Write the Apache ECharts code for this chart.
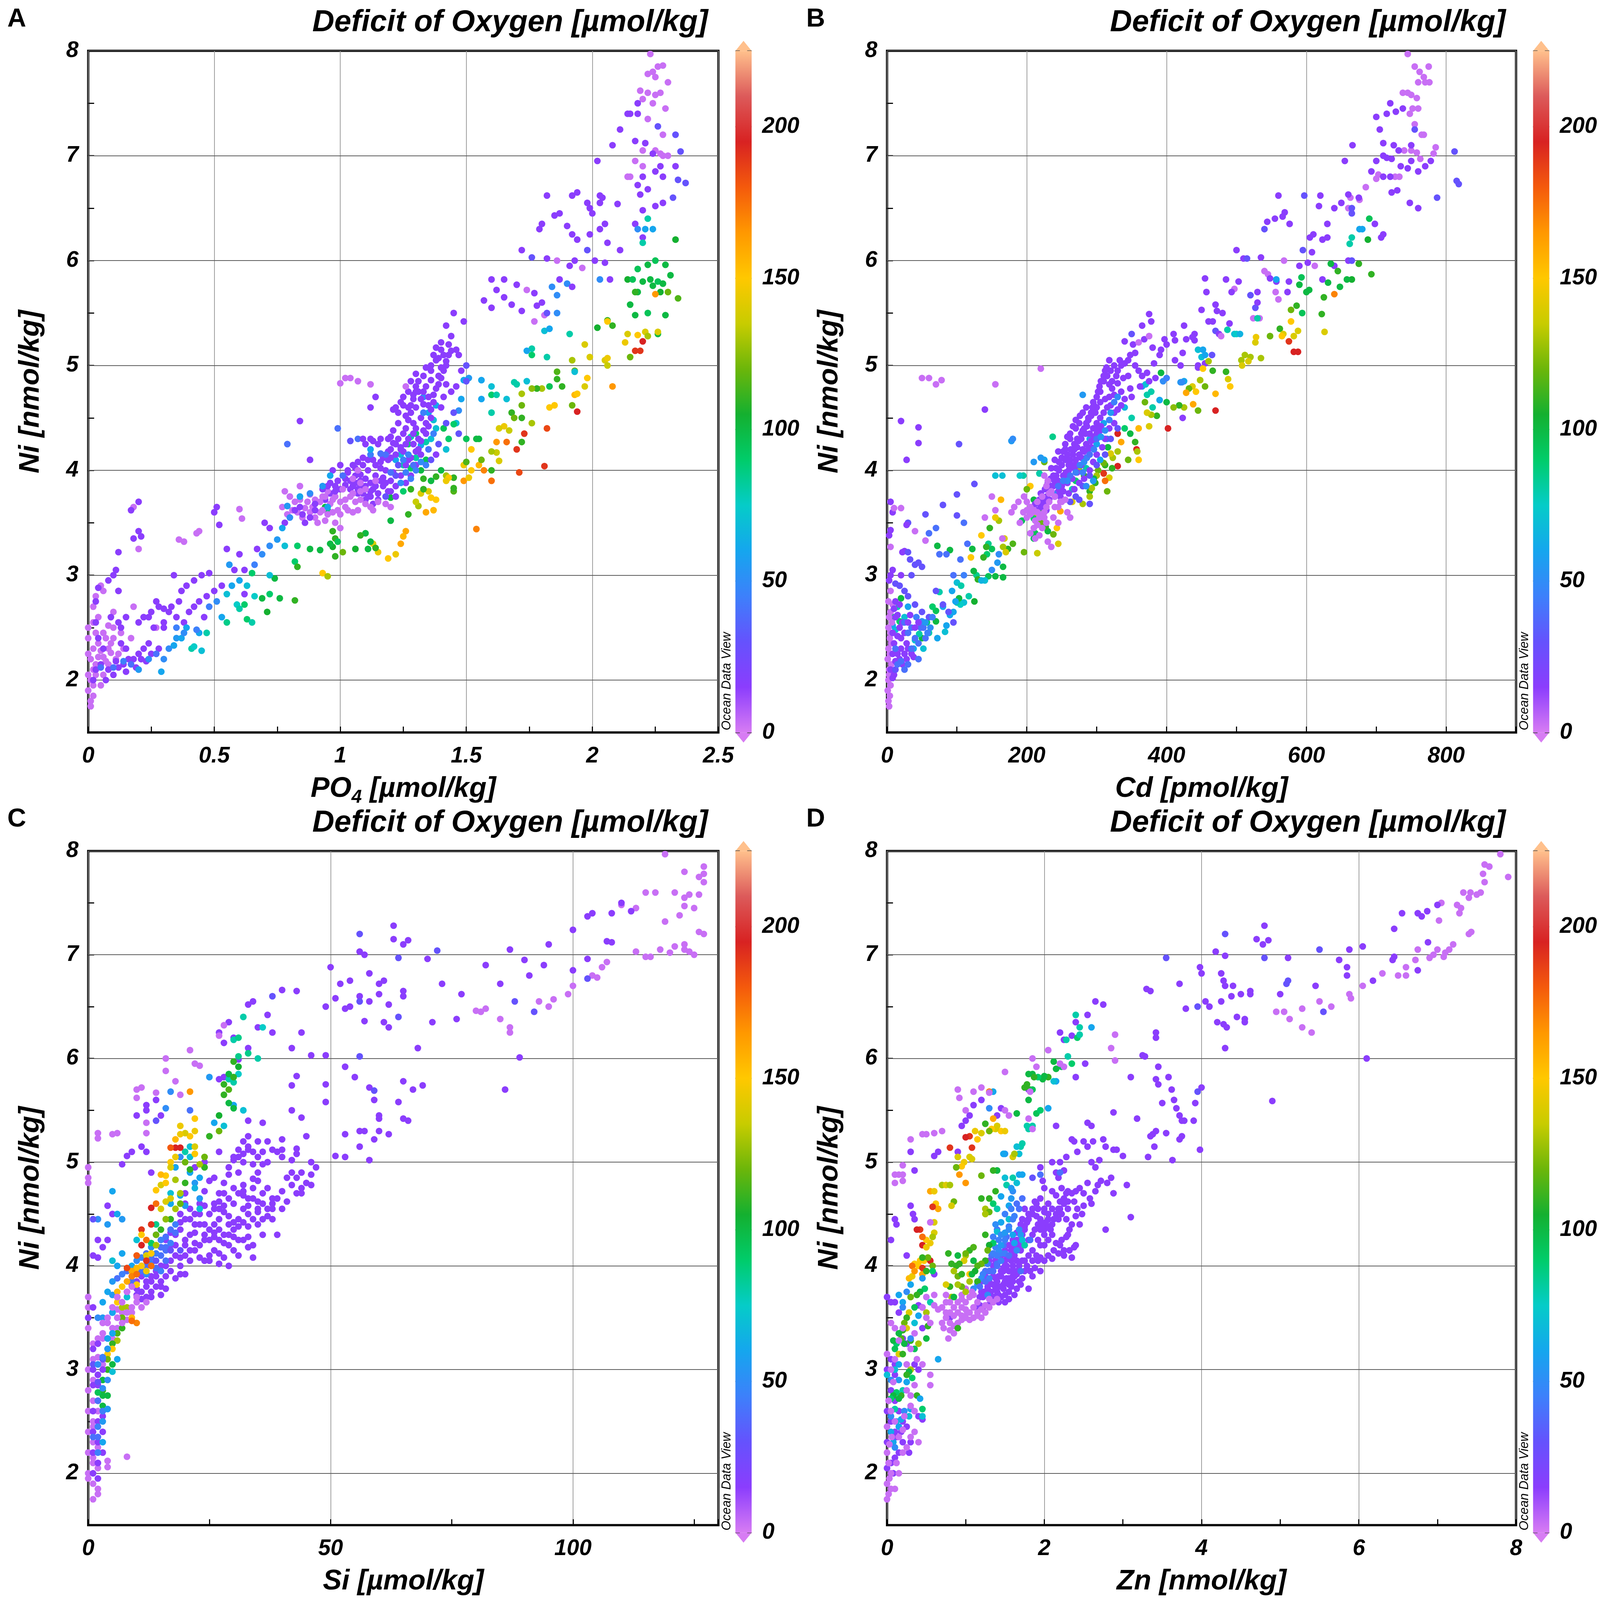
<!DOCTYPE html>
<html>
<head>
<meta charset="utf-8">
<script src="https://cdn.jsdelivr.net/npm/echarts@6/dist/echarts.min.js"></script>
<style>
html,body{margin:0;padding:0;background:#fff;overflow:hidden;}
#chart{width:100vw;height:100vh;}
</style>
</head>
<body>
<div id="chart"></div>
<script>
const poData = [
[2.23,7.97,3],[2.26,7.85,3],[2.28,7.86,3],[2.22,7.78,3],[2.25,7.75,3],[2.24,7.8,3],[2.3,7.7,3],[2.19,7.62,3],[2.22,7.6,3],[2.27,7.6,3],[2.25,7.58,3],[2.2,7.54,3],[2.24,7.5,3],[2.29,7.45,3],[2.22,7.35,3],[2.28,7.2,3],[2.25,7.05,3],[2.28,7.0,3],[2.2,7.05,3],[2.17,6.95,3],[2.14,6.8,3],[2.15,6.8,3],[2.2,6.9,3],[2.27,7.02,3],[2.3,7.0,3],
[2.18,7.5,15],[2.18,7.4,15],[2.15,7.4,15],[2.14,7.4,15],[2.11,7.25,15],[2.26,7.28,30],[2.33,7.2,30],[2.08,7.1,15],[2.21,7.12,15],[2.17,7.14,15],[2.24,7.02,15],[2.2,6.8,15],[2.25,6.85,15],[2.27,6.9,15],[2.28,6.8,15],[2.35,7.04,30],[2.37,6.74,30],[2.34,6.77,30],[2.33,6.9,15],[2.18,6.72,15],[2.19,6.63,15],[2.22,6.68,15],[2.2,6.48,15],[2.25,6.52,15],[2.28,6.55,15],[2.1,6.54,15],[2.32,6.6,30],[2.02,6.95,15],[2.03,6.55,15],[2.04,6.6,15],[2.03,6.62,15],[1.94,6.65,15],[1.92,6.62,15],[1.98,6.55,15],[1.99,6.5,15],[2.05,6.35,15],[2.0,6.45,15],[1.82,6.62,15],[1.85,6.43,15],[1.87,6.45,15],[1.79,6.3,15],[1.8,6.35,15],[1.9,6.33,15],[1.92,6.25,15],[1.94,6.2,15],[1.99,6.25,15],[2.03,6.3,15],[2.06,6.17,15],[2.11,6.1,15],[2.17,6.35,15],[2.21,6.3,60],[2.2,6.22,15],[2.22,6.4,80],[2.2,6.17,80],[2.18,6.3,50],[2.24,6.3,60],
[1.72,6.1,15],[1.76,6.03,30],[1.82,6.02,15],[1.86,6.0,3],[1.91,5.95,15],[1.96,5.93,3],[1.98,6.1,30],[2.01,6.0,15],[2.05,5.98,15],[1.93,6.0,15],[2.03,5.82,50],[2.07,5.82,15],[1.9,5.78,50],[1.92,5.75,15],[1.87,5.82,15],[1.77,5.69,15],[1.74,5.72,3],[1.7,5.77,15],[1.65,5.82,15],[1.6,5.82,15],[1.62,5.72,15],[1.65,5.65,15],[1.57,5.62,15],[1.6,5.55,15],[1.68,5.58,15],[1.72,5.52,15],[1.78,5.57,15],[1.8,5.6,15],[1.77,5.42,3],[1.81,5.48,3],[1.82,5.5,30],
[2.33,6.2,105],[2.25,6.0,95],[2.22,5.96,100],[2.29,5.96,100],[2.31,5.86,100],[2.23,5.82,100],[2.18,5.92,95],[2.14,5.82,105],[2.16,5.82,95],[2.2,5.8,100],[2.24,5.76,100],[2.26,5.8,95],[2.28,5.78,100],[2.27,5.7,105],[2.18,5.7,100],[2.17,5.7,110],[2.3,5.7,120],[2.34,5.64,115],[2.15,5.58,100],[2.22,5.5,95],[2.26,5.3,100],[2.29,5.48,100],[2.17,5.48,100],[2.08,5.38,110],[2.06,5.43,110],[2.02,5.36,105],[2.25,5.68,165],
[2.06,5.42,150],[2.14,5.3,140],[2.13,5.22,145],[2.18,5.29,150],[2.21,5.32,140],[2.26,5.32,140],[2.22,5.28,130],[2.15,5.08,120],[2.05,5.05,140],[2.06,5.0,135],[2.17,5.14,190],[2.19,5.14,190],[2.2,5.23,195],[2.06,5.07,145],[2.08,4.8,165],[1.99,5.08,140],[1.97,5.2,140],[1.92,5.05,130],[1.93,4.95,120],[1.98,4.88,150],[1.97,4.8,140],[1.93,4.72,155],[1.94,4.73,150],[1.92,4.62,120],[1.94,4.56,195],[1.85,4.62,150],[1.83,4.6,150],[1.82,4.4,185],[1.81,4.04,190],[1.73,4.35,190],[1.7,4.2,190],[1.71,3.98,185],[1.66,4.27,175],[1.62,4.27,165],[1.6,3.9,175],[1.57,4.0,170],[1.55,4.05,155],[1.52,4.0,150],[1.49,4.05,145],[1.49,3.9,165],[1.51,3.93,145],[1.54,3.44,170],
[1.86,4.87,110],[1.86,4.94,115],[1.88,4.8,110],[1.83,4.8,95],[1.8,4.78,130],[1.78,4.78,110],[1.76,4.78,125],[1.72,4.73,130],[1.74,4.85,70],[1.7,4.82,80],[1.72,4.62,120],[1.68,4.55,110],[1.69,4.5,120],[1.72,4.5,110],[1.76,4.45,130],[1.72,4.27,110],[1.67,4.38,135],[1.65,4.42,145],[1.63,4.4,140],[1.62,4.17,135],[1.6,4.18,130],[1.6,4.0,110],[1.63,4.09,140],[1.56,4.1,120],[1.55,4.3,100],[1.52,4.2,150],[1.5,4.3,95],[1.5,4.08,115],[1.54,4.3,100],[1.6,4.55,80],[1.6,4.72,90],[1.66,4.68,70],[1.69,4.84,80],[1.76,5.1,90],[1.76,5.16,80],[1.74,5.14,60],[1.82,5.08,80],[1.81,5.33,70],[1.83,5.35,60],[1.86,5.5,50],[1.86,5.67,50],[1.84,5.75,50],[1.91,5.3,80],[1.93,4.94,70],[1.6,4.8,70],[1.62,4.72,80],[1.56,4.86,60],[1.51,4.88,55],[1.49,4.86,60],[1.56,4.68,60],[1.48,4.68,60],[1.47,4.57,50],[1.46,4.45,70],[1.45,4.44,90],[1.41,4.4,95],[1.38,4.4,70],[1.43,4.3,90],[1.42,4.2,70],[1.4,4.0,100],[1.45,3.93,110],[1.45,3.8,115],[1.45,3.83,110],[1.42,3.95,130],[1.43,3.93,150],[1.42,3.9,145],[1.38,3.94,110],[1.36,3.9,100],[1.38,3.72,150],[1.36,3.74,150],[1.34,3.6,160],[1.37,3.62,155],[1.35,3.8,140],[1.32,3.78,140],[1.31,3.66,130],[1.3,3.7,135],[1.27,3.58,110],[1.26,3.42,160],[1.25,3.37,155],[1.24,3.3,160],[1.22,3.2,145],[1.19,3.16,150],[1.15,3.22,145],[1.13,3.3,140],[1.14,3.26,110],[1.11,3.25,100],[1.12,3.32,100],[1.06,3.25,105],[1.1,3.4,100],[1.08,3.38,110],[1.2,3.52,100],[1.2,3.74,100],[1.25,3.8,90],[1.28,3.82,110],[1.33,3.82,110],[1.33,3.92,110],[1.32,4.0,100],[1.34,4.1,95],[1.3,4.12,80],[1.28,4.02,90],[1.25,4.05,80],[1.24,4.15,70],[1.22,4.1,60],[1.27,4.25,90],[1.28,4.32,80],[1.3,4.35,90],[1.32,4.24,60],[1.34,4.27,80],[1.36,4.3,70],[1.33,4.7,50],[1.35,4.55,60],[1.37,4.48,70],[1.38,4.62,60],
[0.97,3.42,110],[0.98,3.35,110],[0.97,3.27,105],[0.98,3.18,110],[0.96,3.3,100],[0.94,3.65,100],[0.95,3.62,90],[0.92,3.24,100],[0.93,3.02,150],[0.95,2.99,130],[1.01,3.22,120],[0.99,3.32,95],
[1.45,5.5,15],[1.49,5.42,15],[1.42,5.38,15],[1.44,5.28,15],[1.43,5.2,15],[1.4,5.22,15],[1.38,5.17,15],[1.41,5.1,15],[1.44,5.14,15],[1.46,5.15,15],[1.37,5.1,15],[1.36,5.0,15],[1.38,5.05,15],[1.42,5.04,15],[1.4,4.98,15],[1.39,4.9,15],[1.36,4.86,15],[1.34,4.8,15],[1.33,4.75,15],[1.37,4.72,15],[1.31,4.75,15],[1.29,4.68,15],[1.33,4.63,15],[1.3,4.6,15],[1.28,4.55,15],[1.32,4.5,15],[1.29,4.45,15],[1.27,4.48,15],[1.26,4.4,15],[1.25,4.35,15],[1.23,4.3,15],[1.21,4.26,15],[1.2,4.2,15],[1.24,4.22,15],[1.22,4.15,15],[1.19,4.1,15],[1.18,4.0,15],[1.16,4.02,15],[1.21,3.98,15],[1.24,3.95,15],[1.2,3.9,15],[1.17,3.93,15],[1.14,3.95,15],[1.12,3.88,15],[1.1,3.92,15],[1.08,3.96,15],[1.06,4.02,15],[1.09,4.05,15],[1.11,4.0,15],[1.13,3.82,15],[1.15,3.78,15],[1.12,3.75,15],[1.1,3.72,15],[1.07,3.78,15],[1.05,3.85,15],[1.04,3.9,15],[1.08,3.85,15],[1.17,3.85,15],[1.19,3.8,15],[1.22,3.85,15],[1.26,3.88,15],[1.28,3.95,15],[1.3,4.05,15],[1.27,4.1,15],[1.25,4.18,15],[1.31,4.2,15],[1.29,4.25,15],[1.31,4.3,15],[1.34,4.35,15],[1.35,4.42,15],[1.3,4.4,15],[1.36,4.5,15],[1.35,4.62,15],[1.32,4.68,15],[1.27,4.75,15],[1.28,4.62,15],[1.4,4.6,15],[1.42,4.82,15],[1.44,4.75,15],[1.46,4.8,15],[1.41,4.7,15],[1.48,4.95,15],[1.5,5.0,30],[1.47,5.1,15],[1.5,4.85,30],[1.45,4.55,30],[1.47,4.35,30],[1.42,4.45,30],[1.39,4.25,30],[1.38,4.15,15],[1.36,4.1,30],[1.32,4.15,15],[1.23,4.05,30],[1.22,3.95,30],[1.18,3.75,30],[1.16,4.3,15],[1.15,4.25,15],[1.13,4.28,15],[1.1,4.25,15],[1.07,4.3,40],[1.21,4.58,15],[1.14,4.7,15],[1.2,4.32,15],[1.35,4.7,15],[1.26,4.8,3],[1.3,4.75,15],
[1.22,4.6,15],[1.24,4.65,15],[1.25,4.7,15],[1.23,4.55,15],[1.26,4.52,15],[1.27,4.6,15],[1.29,4.72,15],[1.3,4.8,15],[1.31,4.85,15],[1.33,4.9,15],[1.29,4.35,15],[1.27,4.3,15],[1.26,4.25,15],[1.24,4.2,15],[1.22,4.25,15],[1.2,4.12,15],[1.19,4.18,15],[1.17,4.12,15],[1.16,4.08,15],[1.14,4.05,15],[1.13,4.1,15],[1.11,4.1,15],[1.09,4.12,15],[1.07,4.08,15],[1.05,4.05,15],[1.03,3.98,15],[1.06,3.95,15],[1.08,3.9,15],[1.1,3.85,15],[1.12,3.8,15],[1.14,3.85,15],[1.16,3.9,15],[1.18,3.88,15],[1.2,3.8,15],[1.22,3.75,15],[1.15,3.72,15],[1.13,3.68,15],[1.11,3.75,15],[1.09,3.78,15],[1.07,3.82,15],[1.04,3.82,15],[1.02,3.86,15],[1.0,3.82,15],[0.98,3.85,15],[0.96,3.78,15],[0.94,3.72,15],[1.06,3.88,15],[1.26,4.05,15],[1.28,4.12,15],[1.3,4.18,15],[1.32,4.28,15],[1.33,4.38,15],[1.34,4.45,15],[1.36,4.58,15],[1.37,4.65,15],[1.38,4.78,15],[1.39,4.82,15],[1.4,4.88,15],[1.41,4.95,15],[1.42,5.0,15],[1.39,5.07,15],[1.43,5.1,15],[1.4,5.15,15],[1.34,4.98,15],[1.36,4.95,15],[1.3,4.92,15],[1.28,4.85,15],[1.25,4.62,15],[1.23,4.45,15],[1.21,4.38,15],[1.19,4.3,15],
[1.25,4.1,45],[1.27,4.15,45],[1.29,4.05,40],[1.32,4.08,50],[1.3,4.0,45],[1.28,3.92,45],[1.34,4.05,45],[1.26,3.98,45],[1.24,3.88,50],[1.2,3.98,40],[1.35,4.2,40],[1.37,4.35,45],[1.33,4.55,45],[1.18,4.15,40],[1.12,4.15,45],
[0.93,3.75,3],[0.95,3.8,3],[0.97,3.72,3],[0.99,3.62,3],[0.89,3.65,3],[0.85,3.55,3],[0.83,3.6,3],[0.81,3.62,3],[0.79,3.58,3],[0.77,3.65,3],[1.0,3.58,3],[1.02,3.72,3],[1.05,3.78,3],[1.08,3.72,3],[0.92,3.6,3],
[1.02,4.88,3],[1.04,4.88,3],[1.0,4.83,3],[1.07,4.85,3],[1.12,4.82,3],[1.08,3.8,3],[1.06,3.7,3],[1.04,3.75,3],[1.02,3.65,3],[1.0,3.7,3],[0.98,3.75,3],[1.01,3.82,3],[1.03,3.62,3],[1.05,3.6,3],[0.97,3.6,3],[0.95,3.58,3],[0.93,3.62,3],[0.9,3.55,3],[0.88,3.6,3],[0.87,3.7,3],[0.9,3.72,3],[0.92,3.7,3],[0.94,3.75,3],[0.96,3.68,3],[0.98,3.5,3],[1.0,3.45,3],[0.94,3.52,3],[0.91,3.5,3],[0.86,3.64,3],[0.88,3.77,3],[0.84,3.72,3],[0.82,3.7,3],[0.8,3.75,3],[0.78,3.8,3],[0.84,3.85,3],[1.1,3.68,3],[1.12,3.65,3],[1.13,3.62,3],[1.15,3.7,3],[1.07,3.62,3],[1.05,3.92,3],[1.08,3.88,3],[1.1,3.82,3],[1.14,3.9,3],[1.18,3.68,3],[1.2,3.65,3],[1.07,4.0,3],[0.6,3.63,3],[0.61,3.54,3],
[1.0,4.05,15],[1.02,3.92,15],[0.99,3.9,15],[0.96,3.88,15],[0.93,3.82,15],[0.9,3.68,15],[0.88,3.55,15],[0.86,3.5,15],[0.9,3.62,15],[1.01,3.95,40],[0.95,3.85,15],[0.97,4.0,15],[0.98,3.8,15],[0.84,3.65,15],[1.03,4.0,15],[1.12,4.3,15],[1.09,4.3,15],[1.12,4.6,15],[0.99,4.4,40],[1.04,4.28,30],[0.88,4.1,15],[0.84,4.47,15],[0.79,4.25,40],[0.96,3.95,60],[0.95,3.65,60],[1.16,4.16,40],[1.12,4.2,60],
[0.01,1.75,3],[0.01,1.8,3],[0.02,1.85,3],[0.0,1.9,3],[0.02,1.95,3],[0.01,2.0,3],[0.0,2.05,3],[0.02,2.1,3],[0.03,2.15,3],[0.01,2.2,3],[0.0,2.25,3],[0.02,2.3,3],[0.04,2.35,3],[0.0,2.4,3],[0.03,2.45,3],[0.0,2.5,3],[0.02,2.55,3],[0.05,2.28,3],[0.06,2.22,3],[0.08,2.3,3],[0.09,2.35,3],[0.1,2.4,3],[0.11,2.2,3],[0.12,2.25,3],[0.1,2.5,3],[0.07,2.4,3],[0.04,2.6,3],[0.02,2.7,3],[0.03,2.8,3],[0.06,2.85,3],[0.05,2.9,3],[0.1,2.65,3],[0.12,2.85,3],[0.14,2.3,3],[0.18,2.7,3],[0.2,3.25,3],[0.18,3.65,3],[0.27,2.5,3],[0.36,3.34,3],[0.38,3.32,3],[0.43,3.4,3],[0.44,3.42,3],[0.05,1.95,3],[0.08,2.15,3],[0.13,2.45,3],[0.17,2.4,3],[0.03,2.05,3],[0.06,2.05,3],[0.07,2.18,3],[0.09,2.26,3],[0.04,2.22,3],[0.06,2.45,3],[0.08,2.52,3],
[0.02,2.0,15],[0.03,2.1,15],[0.05,2.15,15],[0.07,2.0,15],[0.08,2.1,15],[0.1,2.05,15],[0.12,2.12,15],[0.14,2.15,15],[0.16,2.2,15],[0.18,2.2,15],[0.2,2.25,15],[0.22,2.3,15],[0.24,2.35,15],[0.21,2.2,15],[0.25,2.25,15],[0.28,2.3,15],[0.15,2.3,15],[0.13,2.35,15],[0.06,2.3,15],[0.04,2.4,15],[0.03,2.55,15],[0.03,2.75,15],[0.04,2.88,15],[0.08,2.95,15],[0.1,3.0,15],[0.11,3.05,15],[0.12,2.85,15],[0.09,2.6,15],[0.12,2.55,15],[0.13,2.5,15],[0.18,3.35,15],[0.2,3.42,15],[0.2,3.7,15],[0.17,3.62,15],[0.21,3.37,15],[0.12,3.22,15],[0.27,2.75,15],[0.28,2.7,15],[0.3,2.68,15],[0.32,2.65,15],[0.33,2.7,15],[0.3,2.55,15],[0.34,3.0,15],[0.37,2.85,15],[0.39,2.9,15],[0.42,2.95,15],[0.45,3.0,15],[0.48,3.02,15],[0.5,3.6,15],[0.51,3.65,15],[0.52,3.48,15],[0.55,3.25,15],[0.58,3.05,15],[0.62,3.05,15],[0.6,3.2,15],[0.67,3.25,15],[0.7,3.5,15],[0.72,3.45,15],[0.62,2.82,15],[0.25,2.65,15],[0.22,2.6,15],[0.2,2.55,15],[0.24,2.6,15],[0.15,2.6,15],[0.26,2.5,15],[0.3,2.5,15],[0.35,2.6,15],[0.38,2.55,15],[0.4,2.65,15],[0.42,2.7,15],[0.44,2.75,15],[0.47,2.8,15],[0.5,2.85,15],[0.53,2.9,15],[0.36,2.75,15],[0.46,2.6,15],[0.82,3.62,15],[0.85,3.58,15],[0.78,3.5,15],[0.11,2.18,15],[0.15,2.08,15],[0.19,2.12,15],[0.23,2.18,15],
[0.05,2.12,40],[0.1,2.12,40],[0.14,2.18,45],[0.17,2.15,40],[0.2,2.1,55],[0.24,2.2,50],[0.27,2.25,40],[0.29,2.08,60],[0.3,2.2,50],[0.32,2.3,50],[0.35,2.4,55],[0.37,2.4,60],[0.39,2.5,60],[0.41,2.3,80],[0.42,2.32,75],[0.44,2.45,60],[0.47,2.45,80],[0.43,2.48,45],[0.38,2.45,50],[0.34,2.33,60],[0.48,2.7,45],[0.51,2.75,50],[0.53,2.6,60],[0.55,2.82,70],[0.57,2.9,60],[0.59,2.72,75],[0.6,2.68,80],[0.62,2.72,90],[0.55,2.55,85],[0.56,3.1,55],[0.6,2.95,60],[0.63,2.9,70],[0.66,2.8,75],[0.65,3.02,90],[0.69,2.78,100],[0.71,2.65,105],[0.72,2.82,90],[0.74,2.97,100],[0.76,2.78,100],[0.78,3.28,70],[0.82,3.13,90],[0.83,3.08,110],[0.83,3.28,90],[0.88,3.25,100],[0.82,2.76,110],[0.69,3.2,50],[0.72,3.28,50],[0.75,3.34,55],[0.77,3.45,60],[0.8,3.55,50],[0.79,3.66,55],[0.84,3.75,60],[0.88,3.78,50],[0.93,3.85,55],[0.63,2.58,90],[0.65,2.55,80],[0.66,3.1,45],[0.45,2.28,70],[0.35,2.5,45],[0.72,3.0,70]
];

const cdData = [
[745,7.97,3],[755,7.85,3],[762,7.8,3],[768,7.75,3],[775,7.85,3],[776,7.7,3],[770,7.7,3],[760,7.7,3],[738,7.6,3],[745,7.6,3],[750,7.58,3],[758,7.55,3],[752,7.45,3],[748,7.4,3],[755,7.3,3],[765,7.2,3],[768,7.2,3],[750,7.05,3],[758,7.03,3],[763,6.97,3],[785,7.08,3],[782,7.02,3],[727,6.8,3],[733,6.8,3],[703,6.82,3],[700,6.78,3],[685,6.7,3],[660,6.5,3],[676,6.58,3],[663,6.6,3],[740,7.05,3],[760,7.45,3],
[720,7.5,15],[728,7.42,15],[715,7.4,15],[700,7.37,15],[738,7.45,15],[705,7.25,15],[710,7.12,15],[725,7.1,15],[732,7.05,15],[710,7.0,15],[715,6.98,15],[700,6.95,15],[722,6.97,15],[735,6.9,15],[745,6.88,15],[750,6.95,15],[760,6.85,15],[770,6.9,15],[778,6.95,15],[755,7.25,30],[750,7.1,15],[812,7.04,30],[815,6.76,30],[818,6.73,30],[787,6.6,30],[760,6.5,15],[748,6.55,15],[730,6.67,15],[722,6.65,15],[720,6.8,15],[710,6.8,15],[693,6.85,15],[698,6.35,15],[710,6.25,15],[707,6.22,15],[666,7.1,15],[655,6.95,15],[660,6.63,15],[675,6.6,15],[665,6.5,30],[665,6.45,30],[650,6.55,15],[640,6.5,15],[630,6.35,15],[618,6.52,15],[620,6.62,15],[597,6.62,30],[560,6.62,15],[555,6.4,15],[540,6.3,30],[544,6.37,15],[576,6.35,15],[569,6.46,15],[566,6.42,15],[623,6.2,15],[630,6.22,15],[610,6.25,15],[605,6.22,15],[595,6.1,30],[590,5.95,15],[602,5.98,15],[608,6.08,15],[612,5.95,3],[640,5.95,15],[623,5.82,15],[660,6.0,15],[665,6.0,30],[500,6.1,15],[510,6.02,15],[515,6.02,30],[535,6.03,15],[545,5.87,3],[568,6.0,3],[557,5.8,15],[548,5.83,15],[530,5.7,15],[520,5.67,30],[503,5.8,15],[497,5.73,3],[493,5.7,15],[485,5.82,15],[480,5.5,15],[470,5.58,15],[472,5.52,15],[455,5.83,15],[457,5.7,15],[450,5.53,15],[460,5.42,15],[466,5.42,15],[470,5.33,30],[475,5.3,15],[490,5.4,15],[440,5.3,15],[437,5.27,15],[428,5.25,15],[425,5.38,15],[410,5.3,15],[412,5.24,15],[412,5.05,15],[420,5.0,15],[445,5.0,15],[445,4.98,15],[455,5.02,15],[465,5.1,30],[478,5.28,3],[527,5.55,30],[530,5.6,15],[533,5.45,3],[524,5.45,3],[556,5.7,3],[560,5.63,3],[575,5.8,15],[573,5.7,15],[540,5.9,3],
[690,6.4,95],[688,6.2,105],[676,6.3,60],[680,6.3,60],[665,6.22,80],[662,6.16,80],[675,5.97,110],[665,5.82,105],[658,5.82,100],[645,5.9,110],[635,5.97,100],[648,5.75,100],[631,5.79,100],[625,5.65,110],[622,5.49,110],[604,5.72,100],[600,5.7,100],[593,5.84,95],[590,5.77,100],[586,5.57,110],[594,5.5,95],[578,5.53,120],[557,5.82,60],[562,5.35,110],[548,5.28,120],[530,5.45,80],[507,5.05,130],[512,5.1,130],[520,5.08,130],[517,5.04,140],[508,5.0,140],[535,5.07,130],[527,5.22,140],[528,5.27,145],[567,5.3,140],[565,5.28,150],[578,5.42,150],[582,5.28,140],[588,5.33,140],[582,5.13,195],[588,5.13,195],[575,5.23,190],[626,5.32,140],[640,5.68,170],[693,5.87,110],[497,5.3,70],[487,5.34,80],[485,4.94,110],[488,4.87,140],[491,4.8,150],[470,4.57,195],[470,4.73,155],[460,5.04,130],[452,4.97,150],[448,4.86,130],[445,5.15,70],[452,5.15,60],[450,5.08,70],[466,4.95,110],[455,4.8,120],[442,4.75,150],[437,4.8,140],[432,4.78,120],[428,4.74,160],[425,4.85,60],[420,4.84,55],[438,4.63,160],[445,4.57,120],[425,4.6,130],[418,4.62,110],[410,4.6,125],[400,4.65,100],[402,4.4,195],[392,4.93,100],[390,4.67,60],[386,4.52,110],[380,4.6,80],[378,4.53,130],[372,4.55,140],[369,4.65,120],[372,4.72,80],[378,4.75,80],[365,4.8,50],[370,4.82,70],[375,4.42,140],[360,4.4,155],[357,4.2,195],[358,4.18,130],[355,4.27,110],[360,4.1,150],[345,4.1,120],[348,4.35,100],[340,4.4,90],[335,4.27,160],[330,4.35,195],[330,4.04,195],[330,4.18,130],[323,4.12,130],[320,4.16,140],[322,4.02,110],[316,4.22,100],[312,4.05,110],[310,4.07,120],[318,3.93,140],[312,3.9,175],[310,3.97,190],[302,4.0,120],[300,3.95,130],[298,3.88,110],[296,3.92,100],[290,3.8,110],[293,3.83,130],[290,3.75,130],[315,3.8,120],[275,4.0,130],[282,3.95,110],[285,4.02,80],[270,3.9,90],[265,3.82,80],[280,3.68,130],[248,3.61,160],[243,3.45,150],[238,3.39,120],[245,3.3,140],[230,3.42,100],[227,3.46,110],[220,3.5,120],[215,3.57,140],[218,3.6,110],[210,3.54,90],[212,3.4,95],[210,3.35,95],[215,3.21,135],[196,3.22,120],[193,3.52,95],[210,3.72,100],[205,3.85,150],[200,3.82,120],[195,3.95,80],[218,3.97,80],[225,4.08,120],[237,4.32,85],[240,3.9,60],[265,3.7,140],[180,3.3,115],[173,3.25,110],[166,3.08,100],[166,3.27,130],[150,3.25,95],[160,3.52,130],[155,3.55,145],[147,3.45,110],[145,3.3,85],[142,3.27,110],[143,3.2,90],[138,3.17,110],[135,3.38,150],[128,3.0,85],[130,2.96,110],[124,3.04,100],[125,2.75,105],[120,3.17,150],[117,2.8,80],[110,2.74,70],[105,2.72,75],[100,2.74,80],[103,2.78,100],[100,2.93,70],[106,2.9,80],[122,3.25,100],[155,2.99,100],[145,2.99,95],[166,2.98,100],[170,3.22,140],[168,3.35,140],[163,3.72,155],[72,3.28,100],[90,3.24,100],[75,2.84,80],[70,2.56,100],[70,2.66,95],[65,2.7,90],[57,2.55,90],[50,2.4,100],[60,2.45,80],[52,2.3,70],[46,2.44,80],[40,2.38,70],[38,2.3,60],[15,2.7,80],[18,2.56,90],[20,2.78,100],[10,2.6,90],[12,2.48,70],[8,2.52,60],[25,2.6,70],[30,2.7,60],[85,2.52,60],[83,2.46,70],[80,2.7,60],[95,2.65,60],[93,2.85,60],[98,2.75,60],[90,2.62,60],[140,2.95,70],[135,2.95,65],[150,3.05,50],[158,3.12,55],[160,3.2,50],[190,3.95,75],[155,3.95,70],[165,3.95,70],[178,4.28,55],[210,4.08,55],[225,4.1,60],[220,4.12,55],[280,4.72,55],[310,4.45,60],[315,4.3,55],[300,4.25,60],[290,4.3,60],[305,4.1,60],[340,4.6,65],[350,4.5,80],[455,5.1,60],[422,4.84,50],[395,4.85,50],[400,4.88,45],[500,5.3,75],[505,5.3,65],
[375,5.49,15],[378,5.42,15],[365,5.38,15],[368,5.25,15],[352,5.2,15],[340,5.23,15],[355,5.12,15],[348,5.1,15],[345,5.05,15],[333,5.05,15],[325,5.0,15],[320,4.95,15],[315,4.9,15],[322,4.85,15],[330,4.83,15],[338,4.88,15],[345,4.9,15],[355,5.0,15],[360,4.95,15],[365,4.9,15],[372,4.93,15],[382,5.02,15],[390,5.1,15],[392,5.15,15],[380,5.17,15],[397,5.25,15],[400,5.2,15],[384,4.88,15],[375,4.85,15],[362,4.8,15],[348,4.78,15],[335,4.75,15],[325,4.72,15],[318,4.7,15],[312,4.68,15],[305,4.65,15],[300,4.6,15],[298,4.55,15],[292,4.52,15],[288,4.48,15],[285,4.45,15],[282,4.4,15],[278,4.35,15],[272,4.3,15],[268,4.25,15],[263,4.2,15],[258,4.15,15],[255,4.1,15],[250,4.05,15],[246,4.0,15],[242,3.95,15],[240,3.9,15],[236,3.85,15],[232,3.8,15],[228,3.75,15],[225,3.7,15],[220,3.65,15],[215,3.62,15],[212,3.68,15],[220,3.78,15],[230,3.88,15],[238,3.95,15],[245,3.9,15],[250,3.85,15],[255,3.95,15],[260,4.0,15],[265,4.05,15],[270,4.1,15],[275,4.15,15],[280,4.2,15],[285,4.25,15],[290,4.35,15],[295,4.4,15],[300,4.45,15],[305,4.5,15],[310,4.55,15],[315,4.6,15],[320,4.62,15],[325,4.55,15],[330,4.58,15],[335,4.62,15],[340,4.68,15],[350,4.7,15],[305,4.38,15],[298,4.3,15],[292,4.22,15],[285,4.12,15],[278,4.05,15],[272,3.98,15],[265,3.92,15],[258,3.88,15],[252,3.8,15],[248,3.75,15],[260,3.78,15],[268,3.82,15],[275,3.88,15],[282,3.92,15],[290,4.0,15],[295,4.08,15],[300,4.15,15],[308,4.22,15],[312,4.3,15],[318,4.4,15],[325,4.45,15],[262,4.3,15],[270,4.4,15],[275,4.45,15],[255,4.25,15],[245,4.18,15],[240,4.1,15],[235,4.02,15],[285,4.6,15],[295,4.65,15],[305,4.75,15],[310,4.85,15],[318,5.05,15],[350,5.3,30],[330,4.4,30],[320,4.3,30],[312,4.15,30],[300,4.05,30],[290,3.95,30],[280,3.85,30],[270,3.75,30],[262,3.7,30],[290,3.68,30],[275,3.72,30],[440,5.24,15],[423,5.12,15],[423,4.5,15],
[240,3.75,15],[245,3.8,15],[250,3.88,15],[252,3.95,15],[256,3.98,15],[260,4.05,15],[262,4.1,15],[266,4.15,15],[268,4.2,15],[272,4.22,15],[274,4.28,15],[278,4.3,15],[280,4.38,15],[284,4.35,15],[286,4.42,15],[288,4.5,15],[292,4.55,15],[294,4.6,15],[296,4.62,15],[300,4.7,15],[302,4.75,15],[304,4.8,15],[306,4.85,15],[310,4.9,15],[312,4.95,15],[314,4.98,15],[318,4.82,15],[322,4.78,15],[328,4.9,15],[330,4.95,15],[335,5.0,15],[340,5.02,15],[250,4.12,15],[255,4.2,15],[258,4.32,15],[262,4.35,15],[266,4.42,15],[270,4.48,15],[276,4.52,15],[280,4.55,15],[268,4.02,15],[272,4.05,15],[278,4.12,15],[282,4.18,15],[288,4.2,15],[292,4.28,15],[296,4.32,15],[300,4.35,15],[302,4.4,15],[306,4.42,15],[238,3.85,15],[232,3.72,15],[228,3.62,15],[222,3.68,15],[218,3.72,15],[226,3.82,15],[234,3.92,15],[242,4.02,15],[246,4.08,15],[252,4.18,15],
[262,3.95,40],[270,3.98,45],[276,4.05,45],[282,4.08,50],[286,4.12,45],[290,4.15,40],[280,3.98,45],[296,4.2,45],[300,4.3,40],[306,4.32,55],[312,4.38,50],[318,4.48,45],[258,3.9,50],[252,3.9,45],[245,3.85,40],[238,3.78,45],[285,3.85,50],[295,3.9,55],[325,4.65,45],[320,4.55,55],[330,4.7,50],
[200,3.62,3],[205,3.58,3],[210,3.62,3],[215,3.7,3],[222,3.75,3],[228,3.85,3],[232,3.78,3],[210,3.45,3],[205,3.4,3],[212,3.35,3],[218,3.38,3],[225,3.55,3],[240,3.65,3],[248,3.7,3],[195,3.6,3],[190,3.5,3],[215,3.6,3],
[235,3.8,3],[232,3.7,3],[228,3.65,3],[225,3.6,3],[220,3.58,3],[218,3.55,3],[212,3.52,3],[208,3.6,3],[205,3.65,3],[200,3.7,3],[196,3.75,3],[200,3.55,3],[215,3.48,3],[222,3.45,3],[228,3.5,3],[238,3.55,3],[245,3.65,3],[250,3.7,3],[255,3.72,3],[240,3.75,3],[230,3.9,3],[225,3.95,3],[258,3.6,3],[262,3.55,3],[245,3.5,3],[230,3.32,3],[235,3.27,3],[182,3.65,3],[188,3.7,3],[178,3.6,3],[165,3.35,3],[155,3.62,3],[150,3.75,3],[140,3.55,3],[60,4.88,3],[50,4.88,3],[70,4.82,3],[78,4.86,3],[155,4.82,3],[220,4.97,3],[375,5.28,3],[360,5.22,3],
[140,4.58,15],[20,4.47,15],[45,4.41,15],[45,4.26,15],[103,4.25,30],[28,4.1,15],[180,4.3,50],[125,3.87,30],[100,3.77,30],[80,3.67,30],[55,3.58,30],[30,3.5,30],[5,3.7,15],[8,3.6,15],[5,3.43,15],[3,3.38,15],[10,3.64,3],[20,3.64,3],[5,3.27,3],[22,3.22,15],[25,3.23,15],[33,3.15,30],[40,3.1,30],[45,3.12,30],[50,3.08,30],[35,3.0,30],[20,3.0,15],[8,3.05,15],[5,3.0,15],[3,2.95,15],[12,2.92,30],[18,2.9,30],[25,2.85,30],[30,2.8,30],[40,2.72,30],[50,2.65,30],[60,2.6,30],[70,2.85,30],[80,2.72,30],[88,2.65,30],[95,2.55,30],[60,3.4,40],[70,3.45,40],[100,3.57,30],[110,3.5,40],[40,3.42,3],[55,3.33,3],[75,3.2,40],[85,3.2,40],[95,3.0,40],[105,3.15,40],[110,3.0,45],[115,3.3,40],
[5,2.85,3],[2,2.75,3],[3,2.6,3],[2,2.5,3],[4,2.4,3],[2,2.3,3],[1,2.2,3],[3,2.1,3],[2,2.0,3],[1,1.9,3],[2,1.8,3],[3,1.75,3],[4,1.85,3],[5,1.95,3],[3,2.05,3],[6,2.15,3],[4,2.25,3],[6,2.35,3],[5,2.45,3],[7,2.55,3],[5,2.65,3],[8,2.72,3],
[10,2.68,15],[12,2.6,15],[8,2.45,15],[10,2.35,15],[8,2.25,15],[12,2.18,15],[15,2.25,15],[18,2.2,15],[20,2.3,15],[22,2.15,15],[25,2.25,15],[28,2.2,15],[30,2.3,15],[35,2.25,15],[38,2.22,15],[28,2.35,15],[20,2.4,15],[15,2.42,15],[18,2.5,15],[22,2.55,15],[15,2.62,15],[25,2.45,15],[10,2.05,15],[5,2.1,15],[8,2.02,15],
[12,2.1,30],[15,2.15,40],[20,2.18,40],[25,2.1,40],[30,2.15,40],[35,2.3,40],[40,2.4,40],[45,2.35,40],[48,2.5,40],[52,2.5,40],[55,2.4,40],[58,2.45,45],[62,2.5,50],[45,2.2,40],[12,2.3,40],[25,2.55,40],[30,2.45,40],[35,2.5,40],[42,2.6,45],[50,2.56,50],[55,2.55,55],[65,2.6,45],[72,2.4,60],[30,2.55,15],[40,2.5,15],[45,2.55,15],[33,2.62,15],[12,2.75,15],[18,2.72,15],[30,3.22,30],[28,3.48,15]
];

const siData = [
[119,7.97,3],[127,7.85,3],[127,7.78,3],[127,7.7,3],[126,7.75,3],[123,7.8,3],[121,7.6,3],[117,7.6,3],[115,7.6,3],[123,7.55,3],[124,7.58,3],[126,7.58,3],[123,7.47,3],[125,7.45,3],[122,7.38,3],[119,7.32,3],[126,7.22,3],[127,7.2,3],[123,7.1,3],[121,7.08,3],[118,7.05,3],[123,7.05,3],[124,7.03,3],[125,7.0,3],[120,7.02,3],[116,6.98,3],[113,7.03,3],[115,6.98,3],[107,6.93,3],[106,6.88,3],[105,6.78,3],[104,6.8,3],[99,6.62,3],[96,6.57,3],[93,6.55,3],[95,6.5,3],[100,6.7,3],[87,6.3,3],[87,6.25,3],[85,6.38,3],[82,6.48,3],[81,6.45,3],[80,6.46,3],[110,7.48,3],[113,7.45,3],
[110,7.5,15],[112,7.42,15],[104,7.4,15],[103,7.37,15],[108,7.4,15],[100,7.24,15],[107,7.13,15],[108,7.12,15],[103,6.96,15],[103,6.77,30],[100,6.85,15],[95,7.1,15],[94,6.9,15],[90,6.95,15],[91,6.8,15],[92,6.45,30],[88,6.55,30],[87,7.05,15],[85,6.72,15],[82,6.9,15],[89,6.01,15],[86,5.7,15],[77,6.62,15],[76,6.38,15],[72,7.04,30],[70,6.96,15],[71,6.35,15],[73,6.72,15],[68,6.1,15],[69,5.74,15],[67,5.7,15],[66,7.14,15],[65,7.1,15],[63,7.28,15],[64,6.97,30],[63,7.15,15],[65,6.65,15],[65,6.6,15],[64,6.4,30],[62,6.52,15],[61,6.75,15],[60,6.72,15],[60,6.62,15],[62,6.3,15],[61,6.35,15],[58,6.55,15],[58,6.82,15],[57,7.0,15],[56,7.03,15],[56,7.2,30],[56,6.6,15],[56,6.55,30],[54,6.5,15],[54,6.75,15],[53,6.48,15],[52,6.72,15],[50,6.88,15],[49,6.5,15],[51,6.58,15],[57,6.36,15],[56,6.02,30],[53,5.92,15],[55,5.82,15],[58,5.72,15],[59,5.69,30],[59,5.6,15],[60,5.45,15],[60,5.42,15],[64,5.58,15],[65,5.78,15],[65,5.42,15],[66,5.4,15],[62,5.27,15],[60,5.3,15],[59,5.22,15],[58,5.02,15],[57,5.3,15],[56,5.3,15],[56,5.15,15],[53,5.27,15],[53,5.05,15],[51,5.06,15],[49,5.58,15],[49,6.03,15],[49,5.75,15],[46,6.03,15],[43,5.83,15],[42,5.74,15],[42,5.5,15],[44,5.43,15],[45,5.25,15],[46,5.0,15],[43,5.08,15],[42,5.02,15],[40,5.12,15],[40,5.22,15],[43,5.13,15],[44,6.25,15],[42,6.1,15],[43,6.65,15],[40,6.66,15],[38,6.6,30],[37,6.42,15],[34,6.55,15],[33,6.52,15],[38,6.25,15],[35,6.3,15],[33,6.1,15],[31,5.99,15],[30,6.2,15],[27,6.25,15],[28,6.15,15],[29,6.35,15],[28,5.82,15],[27,5.8,15],[33,5.4,15],[36,5.38,15],[33,5.12,15],[35,5.2,15],[38,5.12,15],[37,5.0,15],[36,4.98,15],[35,4.82,15],[34,4.84,15],[35,4.9,15],
[47,4.95,15],[46,4.88,15],[45,4.8,15],[44,4.75,15],[43,4.85,15],[44,4.9,15],[42,4.78,15],[46,4.78,15],[44,4.7,15],[40,4.72,15],[41,4.62,15],[40,4.55,15],[39,4.65,15],[38,4.6,15],[37,4.48,15],[36,4.6,15],[35,4.52,15],[34,4.45,15],[33,4.5,15],[32,4.55,15],[31,4.45,15],[33,4.38,15],[30,4.35,15],[29,4.4,15],[28,4.3,15],[29,4.2,15],[27,4.25,15],[26,4.15,15],[25,4.1,15],[26,4.32,15],[24,4.4,15],[27,4.55,15],[25,4.5,15],[22,4.4,15],[21,4.3,15],[20,4.25,15],[22,4.15,15],[21,4.05,15],[20,3.92,15],[19,4.0,15],[18,4.1,15],[17,4.2,15],[17,3.95,15],[16,3.9,15],[15,4.0,15],[15,3.85,15],[14,3.8,15],[13,3.9,15],[12,3.8,15],[12,3.95,15],[11,3.75,15],[10,3.85,15],[13,3.7,15],[15,3.72,15],[16,3.78,15],[11,4.0,15],[9,3.9,15],[30,4.6,15],[31,4.7,15],[28,4.58,15],[32,4.68,15],[30,4.75,15],[28,4.8,15],[26,4.85,15],[29,4.95,15],[31,5.05,15],[32,5.08,15],[33,5.15,15],[34,5.1,15],[31,4.9,15],[36,4.7,15],[37,4.75,15],[35,4.55,15],[33,4.58,15],[34,4.65,15],[38,4.45,15],[39,4.3,15],[36,4.3,15],[34,4.2,15],[33,4.18,15],[32,4.25,15],[30,4.15,15],[28,4.08,15],[27,4.12,15],[24,4.05,15],[23,4.2,15],[24,4.25,15],[25,4.25,15],[22,4.5,15],[23,4.6,15],[24,4.72,15],[20,4.6,15],[19,4.5,15],[21,4.45,15],[26,4.6,15],[27,4.7,15],[25,4.82,15],[26,4.4,15],[18,4.3,15],[16,4.25,15],[17,4.32,15],[22,4.95,15],[20,4.7,15],[24,5.0,15],[27,5.1,15],[29,4.88,15],[30,5.02,15],[13,4.9,15],[12,5.1,15],[11,5.15,15],[9,5.1,15],[8,5.06,15],[12,5.55,15],[14,5.6,15],[15,5.45,15],[14,5.4,30],[12,5.5,15],[10,5.45,15],[4,4.58,15],[1,4.1,15],[2,4.25,15],[4,4.25,15],[3,4.18,15],[5,4.5,15],[7,4.98,15],[32,4.72,15],[38,4.55,15],[34,4.08,15],[20,4.2,15],[19,4.35,15],
[27,4.45,15],[28,4.52,15],[29,4.48,15],[30,4.42,15],[31,4.38,15],[32,4.42,15],[30,4.28,15],[31,4.25,15],[29,4.3,15],[28,4.22,15],[27,4.35,15],[26,4.28,15],[25,4.35,15],[24,4.3,15],[23,4.4,15],[22,4.32,15],[22,4.22,15],[21,4.15,15],[20,4.1,15],[19,4.08,15],[18,4.2,15],[23,4.08,15],[25,4.05,15],[27,4.02,15],[29,4.0,15],[31,4.1,15],[33,4.28,15],[35,4.4,15],[36,4.45,15],[37,4.55,15],[38,4.65,15],[33,4.65,15],[32,4.78,15],[34,4.75,15],[35,4.62,15],[29,4.65,15],[28,4.7,15],[27,4.62,15],[26,4.55,15],[24,4.58,15],[23,4.5,15],[21,4.55,15],[20,4.45,15],[19,4.42,15],[30,5.05,15],[31,5.12,15],[32,5.0,15],[34,4.98,15],[33,5.25,15],[32,5.2,15],[35,5.05,15],[36,5.1,15],[37,5.2,15],[39,5.1,15],[40,5.05,15],[41,4.85,15],[42,4.9,15],[43,4.7,15],[17,4.05,15],[16,4.0,15],[14,3.95,15],[13,3.85,15],[14,3.9,15],[12,3.85,15],[11,3.9,15],[10,3.78,15],[12,3.7,15],[13,3.75,15],[15,3.8,15],[18,3.88,15],[19,3.92,15],[8,3.75,15],[9,3.82,15],[10,3.72,15],[11,3.68,15],
[15,4.1,40],[16,4.15,40],[17,4.22,45],[15,4.18,40],[14,4.12,45],[13,4.08,40],[16,4.28,40],[17,4.35,40],[18,4.4,45],[15,3.95,45],[14,3.98,40],[12,3.92,50],[13,4.02,45],[11,3.95,40],[10,3.92,45],[9,3.85,40],
[5,3.55,3],[6,3.58,3],[7,3.55,3],[8,3.48,3],[9,3.55,3],[4,3.45,3],[5,3.3,3],[6,3.4,3],[3,3.3,3],[4,3.2,3],[2,3.12,3],[3,3.05,3],[2,2.95,3],
[14,4.3,40],[15,4.25,45],[16,4.18,40],[13,4.18,50],[12,4.12,40],[11,4.08,45],[10,4.05,50],[12,4.0,40],[14,4.05,30],[16,4.05,40],[18,4.32,40],[17,4.15,30],[19,4.15,30],[8,3.95,40],[7,3.92,45],[6,3.88,40],[5,3.85,55],[5,3.72,55],[4,3.75,60],[3,3.65,60],[6,4.0,60],[5,4.05,70],[6,4.5,60],[5,4.72,60],[4,4.4,55],[7,4.45,55],[2,4.45,50],[1,4.45,30],[20,4.58,55],[22,4.8,55],[23,4.85,60],[23,4.65,55],[23,4.55,70],[21,4.9,60],[22,4.75,65],[19,4.68,60],[17,4.6,60],[17,4.7,70],[18,4.95,60],[19,5.05,50],[21,5.15,70],[21,5.05,70],[21,5.5,40],[25,5.82,55],[17,5.68,50],[26,5.38,60],[16,5.52,50],[7,4.12,60],[9,4.0,60],[10,4.25,70],[28,5.35,70],[30,5.55,60],[29,5.8,80],[30,6.18,80],[31,6.2,85],[33,6.05,85],[32,6.4,80],[36,6.3,75],[35,6.0,80],[31,6.02,85],[30,5.77,80],[31,5.85,75],[32,5.5,70],[20,5.1,80],[14,4.4,85],[13,4.22,90],[8,3.7,70],[5,3.55,60],[3,3.5,55],[2,3.5,50],
[30,5.97,110],[31,5.92,105],[29,5.85,100],[30,5.82,110],[28,5.75,110],[29,5.7,115],[28,5.65,110],[29,5.57,100],[30,5.52,100],[27,5.45,105],[27,5.3,120],[25,5.25,110],[24,5.05,120],[24,4.95,110],[20,5.0,120],[21,4.93,110],[20,4.8,110],[19,4.7,130],[19,4.6,120],[18,4.55,130],[17,4.45,110],[17,4.65,140],[16,4.62,140],[15,4.55,140],[15,4.35,110],[14,4.3,120],[14,4.2,130],[12,4.1,140],[13,4.12,150],[11,4.0,150],[10,3.98,155],[9,3.95,160],[9,3.9,170],[10,3.92,175],[8,3.98,185],[8,3.85,160],[7,3.8,150],[7,3.6,130],[6,3.65,150],[6,3.7,145],[6,3.75,155],[8,3.6,130],[9,3.5,155],[10,3.45,170],[7,3.5,120],[7,3.4,110],[6,3.35,115],[6,3.28,130],[5,3.25,110],[5,3.2,150],[4,3.15,150],[4,3.1,120],[5,3.05,100],[4,3.0,110],[3,2.9,100],[3,2.8,110],[3,2.75,100],[2,2.78,95],[3,2.65,100],[4,2.75,100],[22,5.42,150],[22,5.3,145],[21,5.25,150],[22,5.15,140],[20,5.28,140],[19,5.27,145],[18,5.22,155],[19,5.14,195],[18,5.14,195],[17,5.14,180],[18,5.05,145],[17,5.0,150],[17,4.95,140],[16,4.87,150],[15,4.88,155],[15,4.78,140],[14,4.73,150],[16,4.8,150],[14,4.6,175],[13,4.56,195],[13,4.4,190],[11,4.35,190],[12,4.25,175],[11,4.2,195],[11,4.3,150],[12,4.05,190],[10,4.1,180],[13,4.0,175],[12,3.95,145],[10,3.82,150],[22,5.08,150],[23,4.98,130],[21,5.68,165],[19,5.35,145],[18,4.83,130],[16,4.45,125],[9,3.47,175],
[0,4.95,3],[0,4.85,3],[0,4.8,3],[2,5.28,3],[2,5.23,3],[6,5.28,3],[5,5.27,3],[10,5.62,3],[10,5.7,3],[11,5.72,3],[12,5.38,3],[12,5.28,3],[14,5.67,3],[16,5.88,3],[16,6.0,3],[18,5.78,3],[19,5.65,3],[22,5.95,3],[23,5.93,3],[21,6.08,3],[27,6.22,3],[28,6.32,3],[6,3.7,3],[5,3.6,3],[4,3.5,3],[3,3.45,3],[6,3.5,3],[7,3.45,3],[8,3.55,3],[9,3.6,3],[10,3.65,3],[11,3.6,3],[12,3.65,3],[7,3.65,3],[8,3.75,3],[9,3.8,3],[10,3.7,3],[5,3.4,3],[3,3.35,3],[2,3.3,3],[1,3.25,3],[1,3.1,3],[0,3.0,3],[1,2.9,3],[0,2.8,3],[1,2.7,3],[0,2.6,3],[1,2.5,3],[0,2.4,3],[1,2.3,3],[0,2.2,3],[1,2.1,3],[0,2.0,3],[1,1.9,3],[2,1.8,3],[1,1.75,3],[2,1.85,3],[0,1.95,3],[2,2.05,3],[1,2.15,3],[2,2.25,3],[4,2.06,3],[4,2.12,3],[8,2.16,3],[2,2.35,3],[1,2.45,3],[2,2.6,3],[0,3.7,3],[0,3.6,3],[0,3.4,3],
[1,3.0,15],[2,2.95,15],[1,2.85,15],[2,2.7,15],[1,2.6,15],[2,2.5,15],[1,2.4,15],[2,2.3,15],[1,2.2,15],[2,2.1,15],[1,2.0,15],[2,1.95,15],[3,2.2,15],[3,2.4,15],[3,2.55,15],[2,2.85,15],[1,3.2,15],[2,3.25,15],[3,3.0,15],[0,3.5,15],[1,3.6,15],[4,3.3,15],[2,4.08,15],[1,3.05,30],[2,2.88,30],[3,3.1,30],
[2,2.35,40],[2,2.45,45],[3,2.6,45],[2,2.7,40],[3,2.82,50],[4,2.9,50],[2,3.05,50],[3,3.12,45],[4,3.2,55],[4,3.3,60],[5,3.35,60],[3,2.5,55],[4,2.62,55],[3,2.3,60],[2,2.2,45],[1,2.35,40],[5,2.98,70],[6,3.1,60]
];

const znData = [
[7.8,7.97,3],[7.6,7.87,3],[7.66,7.85,3],[7.9,7.75,3],[7.58,7.78,3],[7.6,7.7,3],[7.55,7.6,3],[7.5,7.58,3],[7.42,7.6,3],[7.33,7.6,3],[7.4,7.55,3],[7.3,7.45,3],[7.28,7.4,3],[7.25,7.48,3],[7.05,7.5,3],[7.02,7.33,3],[7.43,7.22,3],[7.4,7.2,3],[7.2,7.1,3],[7.15,7.05,3],[7.1,7.02,3],[7.08,6.98,3],[7.0,7.05,3],[6.95,7.0,3],[6.9,6.97,3],[6.75,7.05,3],[6.72,6.95,3],[6.6,6.88,3],[6.6,6.8,3],[6.5,6.8,3],[6.3,6.82,3],[6.05,6.7,3],[5.9,6.58,3],[5.88,6.62,3],[5.65,6.5,3],[5.5,6.55,3],[5.4,6.25,3],[5.28,6.3,3],[5.28,6.48,3],[5.12,6.38,3],[5.05,6.45,3],[4.95,6.45,3],
[7.0,7.48,15],[6.87,7.42,15],[6.75,7.4,15],[6.8,7.37,15],[6.55,7.4,15],[6.45,7.25,15],[6.88,7.12,15],[6.45,6.98,15],[6.43,6.95,15],[6.75,6.85,15],[6.18,6.75,15],[6.05,7.08,15],[5.88,7.05,15],[5.85,6.88,15],[5.85,6.8,15],[5.75,6.95,15],[5.5,7.05,30],[5.55,6.45,30],[5.45,6.7,15],[5.1,6.97,15],[5.1,6.75,30],[5.08,6.72,30],[5.0,6.62,15],[4.8,7.28,15],[4.8,6.97,30],[4.78,7.1,15],[4.7,7.15,15],[4.85,7.14,15],[4.62,6.65,15],[4.62,6.62,15],[4.55,6.38,15],[4.55,6.35,15],[4.45,6.4,15],[4.5,6.62,15],[4.4,6.7,15],[4.38,6.6,15],[4.3,7.2,30],[4.3,6.99,15],[4.18,7.03,15],[4.25,6.82,15],[4.28,6.75,15],[4.3,6.7,15],[4.25,6.55,15],[4.2,6.35,15],[4.28,6.33,15],[4.32,6.3,15],[4.3,6.1,15],[4.05,6.55,15],[4.1,6.5,15],[4.0,6.82,15],[3.98,6.88,15],[3.95,6.5,30],[3.8,6.48,15],[3.72,6.72,15],[3.55,6.97,30],[3.35,6.65,15],[3.3,6.67,15],[3.25,6.03,15],[3.28,6.02,15],[3.42,6.25,15],[3.42,6.2,15],[3.45,5.92,15],[3.42,5.8,15],[3.5,5.57,15],[3.45,5.75,15],[3.58,5.82,15],[3.62,5.7,15],[3.65,5.6,15],[3.68,5.52,15],[3.72,5.45,15],[3.75,5.4,15],[3.78,5.4,15],[3.72,5.22,15],[3.63,5.02,15],[3.55,5.28,15],[3.42,5.3,15],[3.38,5.27,15],[3.35,5.25,15],[3.4,5.15,15],[3.32,5.05,15],[3.18,5.42,15],[3.1,5.82,15],[3.0,5.06,15],[3.05,4.78,15],[2.88,5.48,15],[2.88,5.12,15],[2.92,5.12,15],[2.75,5.22,15],[2.78,5.15,15],[2.62,5.2,15],[2.55,5.15,15],[2.5,5.2,15],[2.42,5.1,15],[2.38,5.2,15],[2.35,5.22,15],[2.55,5.38,15],[2.6,5.35,15],[2.7,5.02,15],[2.6,5.0,15],[3.9,5.4,15],[3.75,5.25,15],[3.98,5.12,15],[4.0,5.72,15],[3.95,5.68,30],[3.92,5.57,15],[4.9,5.59,15],[6.1,6.0,15],[3.1,4.47,15],[2.65,4.95,15],[2.78,4.35,15],[2.85,4.85,15],[2.88,4.7,15],[2.8,4.8,15],[2.72,4.82,15],[2.68,4.78,15],[2.6,4.6,15],[2.65,4.72,15],[2.55,4.8,15],[2.58,4.65,15],[2.5,4.7,15],[2.45,4.75,15],[2.4,4.72,15],[2.35,4.7,15],[2.3,4.72,15],[2.38,4.62,15],[2.42,4.55,15],[2.3,4.55,15],[2.25,4.6,15],[2.2,4.55,15],[2.18,4.45,15],[2.22,4.5,15],[2.28,4.45,15],[2.35,4.4,15],[2.45,4.4,15],[2.4,4.2,15],[2.35,4.08,15],[2.32,4.15,15],[2.25,4.15,15],[2.2,4.2,15],[2.15,4.22,15],[2.1,4.3,15],[2.05,4.25,15],[2.0,4.3,15],[1.95,4.2,15],[1.9,4.1,15],[1.92,4.05,15],[1.95,4.08,15],[2.0,4.35,15],[2.05,4.38,15],[2.12,4.45,15],[2.1,4.55,15],[2.05,4.6,15],[2.0,4.52,15],[1.95,4.45,15],[1.92,4.4,15],[1.88,4.35,15],[1.85,4.3,15],[1.8,4.25,15],[1.75,4.2,15],[1.7,4.15,15],[1.72,4.05,15],[1.68,4.0,15],[1.65,3.95,15],[1.62,3.9,15],[1.6,3.85,15],[1.58,3.8,15],[1.55,3.75,15],[1.5,3.72,15],[1.45,3.7,15],[1.4,3.72,15],[1.42,3.8,15],[1.48,3.82,15],[1.52,3.88,15],[1.55,3.95,15],[1.6,4.0,15],[1.62,4.1,15],[1.58,4.05,15],[1.52,4.0,15],[1.48,3.95,15],[1.45,3.9,15],[1.4,3.85,15],[1.35,3.82,15],[1.32,3.75,15],[1.38,3.7,15],[1.42,3.65,15],[1.5,3.65,15],[1.55,3.68,15],[1.62,3.72,15],[1.65,3.78,15],[1.7,3.82,15],[1.8,3.78,15],[1.85,3.9,15],[1.78,4.0,15],[1.75,4.35,15],[1.8,4.45,15],[1.85,4.5,15],[1.9,4.6,15],[1.95,4.65,15],[2.0,4.75,15],[2.1,4.72,15],[2.15,4.68,15],[2.22,4.75,15],[2.18,4.85,15],[2.15,4.9,15],[2.25,4.92,15],[2.28,5.05,15],[2.2,5.0,15],[2.1,5.0,15],[1.95,4.95,15],[1.98,4.82,15],[2.0,4.55,15],[2.05,4.45,15],[2.48,4.5,15],[2.5,4.58,15],[2.4,4.48,15],[2.3,4.3,15],[2.25,4.1,15],[2.1,4.07,15],[1.85,4.05,15],[2.38,4.18,15],[1.2,3.85,15],[1.25,3.9,15],[1.3,3.95,15],[1.35,4.0,15],[1.38,4.05,15],[1.28,3.8,15],[1.22,3.75,15],[1.18,3.7,15],[1.45,4.1,15],[1.5,4.15,15],[1.55,4.2,15],[1.6,4.25,15],[1.65,4.32,15],[1.7,4.4,15],[1.75,4.55,15],[1.72,4.3,15],[1.68,4.2,15],[1.58,4.15,15],[1.5,4.05,15],[1.3,4.05,15],[2.65,6.55,15],[2.75,6.52,15],[2.55,6.42,15],[2.4,6.35,15],[2.2,6.25,15],[2.25,6.18,15],[2.35,6.22,15],[2.4,5.82,15],[2.52,5.95,15],[2.15,5.35,15],[1.8,5.7,15],[1.45,5.52,15],[1.4,5.45,15],[1.2,5.6,15],[1.1,5.55,15],[1.05,5.45,15],[1.0,5.4,15],[0.9,5.1,15],[0.95,5.35,15],[0.6,5.06,15],[0.65,5.1,15],[0.3,5.1,15],[0.3,4.58,15],[0.33,4.5,15],[0.35,4.45,15],[0.25,4.1,15],[0.1,4.45,15],[0.12,4.4,15],[0.05,4.25,15],[0.0,3.7,15],[0.05,3.65,15],[0.1,3.65,15],[0.15,3.55,15],[0.4,3.62,15],[0.45,3.6,15],[0.6,3.92,15],[0.8,3.5,15],[0.45,3.4,15],[0.35,3.05,15],[0.4,3.0,15],[0.25,3.25,15],[0.2,3.3,15],[0.05,3.1,15],[0.1,3.05,15],[0.0,3.0,15],[0.1,2.95,15],[0.05,2.8,15],[0.1,2.7,15],[0.15,2.6,15],[0.2,2.5,15],[0.25,2.45,15],[0.3,2.3,15],[0.28,2.2,15],[0.2,2.3,15],[0.15,2.2,15],[0.1,2.15,15],[0.05,2.1,15],[0.0,2.05,15],[0.1,2.4,15],[0.05,2.5,15],[0.0,2.6,15],[0.12,2.35,15],[0.18,2.4,15],[0.0,2.3,15],[0.08,2.0,15],[0.45,2.52,15],[0.4,2.55,15],
[1.8,4.5,15],[1.85,4.55,15],[1.88,4.62,15],[1.9,4.48,15],[1.92,4.55,15],[1.95,4.35,15],[1.98,4.4,15],[2.02,4.42,15],[2.05,4.5,15],[2.08,4.35,15],[2.1,4.4,15],[2.15,4.5,15],[2.18,4.55,15],[2.2,4.62,15],[2.25,4.65,15],[2.28,4.7,15],[2.3,4.62,15],[1.78,4.42,15],[1.75,4.38,15],[1.72,4.45,15],[1.7,4.3,15],[1.65,4.25,15],[1.62,4.18,15],[1.6,4.15,15],[1.58,4.2,15],[1.55,4.08,15],[1.52,4.1,15],[1.5,4.0,15],[1.48,3.98,15],[1.45,3.95,15],[1.42,3.9,15],[1.38,3.88,15],[1.35,3.9,15],[1.3,3.85,15],[1.28,3.78,15],[1.25,3.75,15],[1.22,3.7,15],[1.2,3.75,15],[1.35,3.7,15],[1.4,3.75,15],[1.45,3.8,15],[1.5,3.85,15],[1.55,3.88,15],[1.6,3.9,15],[1.65,3.92,15],[1.68,3.85,15],[1.72,3.88,15],[1.75,3.95,15],[1.82,3.95,15],[1.88,3.98,15],[1.95,3.95,15],[2.0,4.05,15],[2.05,4.1,15],[2.12,4.15,15],[2.18,4.12,15],[2.22,4.25,15],[2.28,4.28,15],[2.32,4.35,15],[2.0,4.2,15],[1.92,4.25,15],[1.85,4.15,15],[1.8,4.1,15],[1.75,4.05,15],[1.65,4.05,15],[1.6,3.95,15],[1.55,3.82,15],[1.48,3.78,15],[1.42,3.72,15],[1.38,3.78,15],[1.32,3.65,15],[1.28,3.62,15],[1.22,3.6,15],[1.18,3.62,15],[1.12,3.6,15],
[1.3,4.2,45],[1.35,4.28,45],[1.4,4.35,40],[1.42,4.25,45],[1.38,4.18,45],[1.33,4.1,40],[1.28,4.02,45],[1.25,3.95,40],[1.22,3.92,45],[1.2,3.88,50],[1.3,3.88,45],[1.35,3.95,40],[1.4,4.02,40],[1.45,4.12,45],[1.48,4.2,40],[1.52,4.28,40],[1.55,4.38,45],[1.62,4.48,45],[1.68,4.55,40],[1.72,4.65,40],[1.58,4.65,55],[1.6,4.72,50],[1.15,3.82,50],[1.1,3.78,50],[1.28,3.72,50],
[0.75,3.55,3],[0.8,3.45,3],[0.85,3.42,3],[0.9,3.45,3],[0.95,3.52,3],[1.0,3.58,3],[1.05,3.48,3],[1.1,3.5,3],[1.15,3.52,3],[0.9,3.65,3],[0.95,3.72,3],[1.0,3.78,3],[1.08,3.75,3],[0.85,3.35,3],[0.8,3.38,3],[0.72,3.4,3],[0.78,3.3,3],
[2.4,6.42,80],[2.45,6.3,80],[2.6,6.3,60],[2.42,6.2,90],[2.45,6.23,80],[2.28,6.18,80],[2.3,6.02,80],[2.35,5.95,90],[2.22,5.92,95],[2.15,5.9,100],[2.12,5.97,100],[2.05,5.82,110],[2.0,5.83,100],[1.98,5.8,100],[1.92,5.82,90],[1.85,5.85,100],[1.87,5.82,110],[1.8,5.85,100],[1.78,5.75,110],[1.82,5.7,110],[1.8,5.6,100],[1.75,5.72,110],[1.85,5.7,95],[2.05,5.52,60],[2.15,5.78,60],[2.12,5.78,70],[1.65,5.47,100],[1.85,5.35,80],[1.9,5.47,95],[1.95,5.5,90],[1.8,5.32,80],[1.78,5.35,80],[1.7,5.15,80],[1.65,5.15,70],[1.68,5.08,70],[1.72,5.18,80],[1.6,5.05,140],[1.62,5.08,130],[1.5,5.08,55],[1.48,5.08,60],[1.45,5.3,150],[1.5,5.3,145],[1.4,5.35,140],[1.38,5.32,140],[1.33,5.32,150],[1.35,5.42,160],[1.3,5.3,120],[1.25,5.37,110],[1.3,5.52,50],[1.35,5.68,60],[1.3,5.68,170],[1.15,5.22,150],[1.12,5.3,145],[1.2,5.28,140],[1.05,5.25,190],[1.0,5.24,195],[1.08,5.14,190],[0.8,5.14,190],[1.05,5.05,140],[1.08,5.03,140],[0.98,5.0,145],[0.95,4.96,150],[0.9,5.05,140],[0.92,4.88,165],[0.88,4.95,120],[1.0,4.8,165],[1.2,4.87,120],[1.2,4.65,110],[1.25,4.55,130],[1.3,4.52,120],[1.25,4.5,130],[1.3,4.65,110],[1.35,4.6,90],[1.4,4.55,80],[1.45,4.67,60],[1.38,4.72,110],[1.4,4.92,100],[1.35,4.92,110],[1.5,4.85,70],[1.52,4.78,80],[1.55,4.58,60],[1.58,4.75,55],[1.6,4.85,80],[1.65,4.8,70],[1.68,4.88,60],[1.72,4.88,60],[1.55,4.45,70],[1.45,4.42,60],[1.38,4.4,50],[1.4,4.33,70],[1.35,4.22,90],[1.3,4.2,105],[1.25,4.3,110],[1.28,4.15,120],[1.25,4.05,110],[1.2,4.02,120],[1.15,4.0,115],[1.1,4.05,100],[1.05,4.15,110],[1.1,4.18,115],[1.0,4.1,130],[1.0,4.12,120],[0.98,4.05,140],[0.9,4.1,100],[0.92,4.02,110],[0.88,4.0,110],[0.85,3.95,130],[0.9,3.9,120],[0.95,3.92,110],[1.05,3.92,150],[1.08,3.92,100],[1.12,3.95,105],[1.15,3.85,110],[1.05,3.85,130],[0.95,3.8,120],[0.9,3.82,130],[1.0,3.75,130],[0.8,3.8,110],[0.75,3.82,140],[0.82,3.7,130],[0.9,3.4,110],[0.85,3.7,100],[1.45,4.3,50],[1.5,4.32,55],[1.55,4.35,50],[1.6,4.3,60],[1.62,4.22,60],[1.65,4.15,50],[1.5,4.25,45],[1.45,4.2,55],[1.42,4.15,50],[1.4,4.1,45],[1.5,4.12,45],[1.55,4.1,40],[1.45,4.05,45],[1.35,4.12,45],[1.7,4.3,55],[1.72,4.25,70],[1.75,4.2,80],[1.68,4.35,50],[1.6,4.45,45],[1.58,4.55,45],[1.5,4.5,45],[1.65,4.6,40],[1.82,4.25,40],[1.3,3.95,40],[1.25,3.85,40],[1.18,3.8,40],[1.4,4.0,40],[1.7,3.95,40],[1.95,4.88,40],[2.2,4.9,40],[1.85,4.85,30],[0.82,4.02,110],[0.78,4.12,110],[0.6,4.42,140],[0.62,4.6,150],[0.65,4.55,160],[0.58,4.57,190],[0.55,4.72,160],[0.6,4.72,145],[0.7,4.78,130],[0.75,4.78,140],[0.8,4.78,130],[0.85,4.62,120],[0.82,4.58,140],[0.6,4.32,140],[0.58,4.28,130],[0.55,4.22,145],[0.5,4.25,150],[0.45,4.28,175],[0.42,4.35,190],[0.38,4.35,195],[0.45,4.2,195],[0.5,4.18,145],[0.47,4.05,150],[0.42,4.05,150],[0.4,4.0,150],[0.35,4.02,150],[0.32,4.0,175],[0.28,3.88,155],[0.32,3.9,145],[0.35,3.95,165],[0.45,3.92,160],[0.45,3.98,190],[0.55,4.05,195],[0.58,4.0,120],[0.52,4.08,120],[0.45,4.08,110],[0.5,3.95,110],[0.48,3.78,90],[0.42,3.75,100],[0.38,3.72,110],[0.35,3.6,95],[0.3,3.7,120],[0.28,3.55,140],[0.25,3.5,110],[0.22,3.45,120],[0.25,3.4,140],[0.2,3.38,110],[0.18,3.3,115],[0.15,3.35,100],[0.12,3.25,90],[0.08,3.28,100],[0.1,3.2,95],[0.15,3.15,140],[0.2,3.15,110],[0.22,3.25,100],[0.3,3.28,110],[0.35,3.2,95],[0.4,3.25,130],[0.3,3.0,130],[0.28,2.98,100],[0.32,2.92,90],[0.25,2.95,110],[0.38,2.75,110],[0.42,2.72,60],[0.45,2.62,90],[0.45,2.55,70],[0.5,3.3,100],[0.52,3.42,110],[0.55,3.65,80],[0.58,3.95,90],[0.5,3.55,130],[0.4,3.52,60],[0.35,3.45,70],[0.3,3.3,50],[0.25,2.88,60],[0.2,2.8,80],[0.18,2.75,110],[0.15,2.72,100],[0.12,2.78,90],[0.08,2.75,100],[0.05,2.72,90],[0.1,2.62,80],[0.12,2.5,70],[0.05,2.4,60],[0.08,2.3,60],[0.1,2.25,50],[0.15,2.45,60],[0.18,2.52,60],[0.3,2.62,60],[0.28,2.55,70],[0.22,2.6,50],[0.65,3.1,60],[0.2,3.65,60],[0.15,3.72,60],[0.2,3.6,50],[0.25,3.75,50],[0.3,3.82,60],[0.45,3.88,55],[0.1,3.0,70],[0.15,3.05,60],[0.05,2.9,50],[0.0,2.95,70],[0.05,2.55,50],[0.15,2.9,55],
[0.0,1.75,3],[0.02,1.8,3],[0.05,1.85,3],[0.0,1.9,3],[0.03,1.95,3],[0.05,2.0,3],[0.02,2.1,3],[0.0,2.2,3],[0.03,2.28,3],[0.06,2.35,3],[0.0,2.45,3],[0.05,2.6,3],[0.02,2.7,3],[0.08,2.88,3],[0.05,3.0,3],[0.1,3.1,3],[0.0,3.15,3],[0.15,3.28,3],[0.2,3.4,3],[0.1,3.4,3],[0.05,3.45,3],[0.25,3.05,3],[0.3,2.65,3],[0.35,2.6,3],[0.25,2.8,3],[0.3,2.75,3],[0.35,2.85,3],[0.55,2.85,3],[0.45,3.05,3],[0.38,3.1,3],[0.2,2.42,3],[0.22,2.55,3],[0.3,2.35,3],[0.35,2.4,3],[0.4,2.3,3],[0.15,2.35,3],[0.1,2.5,3],[0.12,2.1,3],[0.15,2.0,3],[0.1,1.85,3],[0.2,2.2,3],[0.25,2.25,3],[0.45,3.6,3],[0.5,3.7,3],[0.6,3.62,3],[0.65,3.58,3],[0.7,3.6,3],[0.75,3.65,3],[0.8,3.55,3],[0.85,3.52,3],[0.9,3.55,3],[0.95,3.6,3],[1.0,3.5,3],[1.05,3.55,3],[1.1,3.6,3],[1.15,3.55,3],[1.2,3.58,3],[1.25,3.62,3],[1.3,3.6,3],[1.35,3.65,3],[1.4,3.68,3],[1.05,3.7,3],[1.1,3.72,3],[1.15,3.65,3],[1.0,3.65,3],[0.95,3.68,3],[0.85,3.6,3],[0.8,3.65,3],[0.75,3.5,3],[0.7,3.45,3],[0.95,3.48,3],[1.2,3.5,3],[1.25,3.55,3],[1.3,3.68,3],[1.02,3.55,3],[0.75,3.72,3],[0.6,3.72,3],[0.5,3.5,3],[0.55,3.45,3],[0.3,3.2,3],[0.35,3.35,3],[0.55,2.95,3],[0.1,4.8,3],[0.1,4.88,3],[0.15,4.88,3],[0.2,4.82,3],[0.2,4.88,3],[0.2,4.97,3],[0.3,5.22,3],[0.45,5.27,3],[0.5,5.27,3],[0.6,5.28,3],[0.7,5.3,3],[0.9,5.7,3],[0.92,5.62,3],[1.0,5.5,3],[1.1,5.68,3],[1.2,5.72,3],[1.3,5.67,3],[1.5,5.87,3],[1.55,5.45,3],[1.5,5.5,3],[1.82,5.68,3],[1.85,6.0,3],[1.9,5.92,3],[2.05,6.08,3],[2.2,5.95,3],[2.25,5.92,3],[2.9,5.98,3],[2.85,6.1,3],[2.9,6.23,3],[1.8,5.42,3],[1.85,5.32,3],[0.55,4.42,3],[0.35,4.92,15]
];

// Axis / scale settings
const niGridLines = [2, 3, 4, 5, 6, 7, 8];
const niMin = 1.5, niMax = 8;
const defMax = 225;
const defTicks = [0, 50, 100, 150, 200];
const defColors = ['#d77cf3','#8b3dfd','#6552fd','#3d80fb','#15a6ee','#05ccc8','#00cc6a','#14b030',
                   '#6cb60a','#c8cc00','#ffc800','#ff9800','#f45a0c','#d82222','#dc5a5a','#ffc08c'];
const letters = ['A','B','C','D'];
const xNames = ['PO{sub|4} [µmol/kg]','Cd [pmol/kg]','Si [µmol/kg]','Zn [nmol/kg]'];
const xMaxes = [2.5, 900, 130, 8];
const xIntervals = [0.5, 200, 50, 2];
const titleText = 'Deficit of Oxygen [µmol/kg]';

// ---------- LAYOUT (designed on a 4136 x 4469 page, scaled to actual size) ----------
const chart = echarts.init(document.getElementById('chart'), null, {renderer: 'canvas'});
const W0 = 4136, H0 = 4469;
const sx = chart.getWidth() / W0, sy = chart.getHeight() / H0, sf = Math.sqrt(sx * sy);
const X = v => v * sx, Y = v => v * sy, F = v => v * sf;

const FF = '"Liberation Sans", Arial, Helvetica, sans-serif';
const PH = 1904;
const layout = [
  {left: 228, top: 142, width: 1629},
  {left: 2293, top: 142, width: 1626},
  {left: 228, top: 2377, width: 1629},
  {left: 2293, top: 2377, width: 1626}
];
const datasets = [poData, cdData, siData, znData];
const CBW = 42, CBGAP = 44;

const grid = [], xAxis = [], yAxis = [], series = [], title = [], graphic = [];
const lab = {fontFamily: FF, fontWeight: 'bold', fontStyle: 'italic', color: '#000'};

function isMult(v, step) { const r = v / step; return Math.abs(r - Math.round(r)) < 1e-6; }

layout.forEach((L, i) => {
  const cbLeft = L.left + L.width + CBGAP;
  const bottom = L.top + PH;
  grid.push({left: X(L.left), top: Y(L.top), width: X(L.width), height: Y(PH), show: true,
             borderColor: '#000', borderWidth: F(6), backgroundColor: 'rgba(0,0,0,0)'});
  grid.push({left: X(cbLeft), top: Y(L.top), width: X(CBW), height: Y(PH), show: false});

  const step = xIntervals[i];
  xAxis.push({
    gridIndex: 2 * i, type: 'value', min: 0, max: xMaxes[i], interval: step,
    axisLine: {show: false},
    axisTick: {show: true, inside: true, length: F(16), lineStyle: {color: '#000', width: F(3)}},
    minorTick: {show: true, splitNumber: 2, length: F(16), lineStyle: {color: '#000', width: F(3)}},
    splitLine: {show: true, lineStyle: {color: '#9a9a9a', width: F(2)}},
    axisLabel: Object.assign({fontSize: F(60), margin: F(34),
      formatter: v => isMult(v, step) ? String(v) : ''}, lab),
    name: xNames[i], nameLocation: 'middle', nameGap: F(104),
    nameTextStyle: Object.assign({fontSize: F(76), lineHeight: F(96),
      rich: {sub: Object.assign({fontSize: F(50), lineHeight: F(52), verticalAlign: 'bottom'}, lab)}}, lab)
  });
  xAxis.push({gridIndex: 2 * i + 1, type: 'category', data: ['d'], show: false, boundaryGap: true});

  yAxis.push({
    gridIndex: 2 * i, type: 'value', min: niMin, max: niMax, interval: 0.5,
    axisLine: {show: false},
    axisTick: {show: true, inside: true, length: F(16), lineStyle: {color: '#000', width: F(3)}},
    splitLine: {show: false},
    axisLabel: Object.assign({fontSize: F(60), margin: F(26),
      formatter: v => isMult(v, 1) ? String(Math.round(v)) : ''}, lab),
    name: 'Ni [nmol/kg]', nameLocation: 'middle', nameGap: F(116), nameRotate: 90,
    nameTextStyle: Object.assign({fontSize: F(76)}, lab)
  });
  yAxis.push({
    gridIndex: 2 * i + 1, type: 'value', min: 0, max: defMax, interval: 50, position: 'right',
    axisLine: {show: false},
    axisTick: {show: true, inside: true, length: F(12), lineStyle: {color: '#444', width: F(3)}},
    splitLine: {show: false},
    axisLabel: Object.assign({fontSize: F(60), margin: F(28),
      formatter: v => defTicks.indexOf(v) >= 0 ? String(v) : ''}, lab)
  });
  yAxis.push({
    gridIndex: 2 * i + 1, type: 'value', min: 0, max: defMax, interval: 50, position: 'left',
    axisLine: {show: false},
    axisTick: {show: true, inside: true, length: F(12), lineStyle: {color: '#444', width: F(3)}},
    splitLine: {show: false}, axisLabel: {show: false}
  });

  series.push({
    type: 'scatter', xAxisIndex: 2 * i, yAxisIndex: 3 * i, data: datasets[i],
    symbol: 'circle', symbolSize: F(18), z: 3, silent: true, large: false,
    itemStyle: {opacity: 1},
    markLine: {silent: true, z: 1, symbol: ['none', 'none'], animation: false,
      label: {show: false}, lineStyle: {color: '#5a5a5a', width: F(2), type: 'solid'},
      data: niGridLines.map(v => ({yAxis: v}))}
  });
  series.push({
    type: 'bar', xAxisIndex: 2 * i + 1, yAxisIndex: 3 * i + 1, data: [defMax],
    barWidth: '100%', silent: true, z: 2,
    itemStyle: {color: new echarts.graphic.LinearGradient(0, 1, 0, 0,
      defColors.map((c, k) => ({offset: k / (defColors.length - 1), color: c})))}
  });

  title.push({text: letters[i], left: X(L.left - 214), top: Y(L.top - 130),
    textStyle: {fontFamily: FF, fontWeight: 'bold', fontSize: F(70), color: '#000'}});
  title.push({text: titleText, right: X(W0 - (L.left + L.width - 22)), top: Y(L.top - 126),
    textStyle: Object.assign({fontSize: F(82)}, lab)});

  graphic.push({type: 'polygon', silent: true,
    shape: {points: [[X(cbLeft), Y(L.top)], [X(cbLeft + CBW), Y(L.top)], [X(cbLeft + CBW / 2), Y(L.top - 28)]]},
    style: {fill: defColors[defColors.length - 1]}});
  graphic.push({type: 'polygon', silent: true,
    shape: {points: [[X(cbLeft), Y(bottom)], [X(cbLeft + CBW), Y(bottom)], [X(cbLeft + CBW / 2), Y(bottom + 28)]]},
    style: {fill: defColors[0]}});
  graphic.push({type: 'text', silent: true, x: X(cbLeft - 6), y: Y(bottom - 6), rotation: Math.PI / 2,
    style: {text: 'Ocean Data View', fontSize: F(34), fontStyle: 'italic', fontFamily: '"Liberation Sans Narrow", ' + FF,
      fill: '#000', textAlign: 'left', textVerticalAlign: 'bottom'}});
});

chart.setOption({
  backgroundColor: '#fff',
  animation: false,
  title: title,
  grid: grid,
  xAxis: xAxis,
  yAxis: yAxis,
  visualMap: [{type: 'continuous', show: false, min: 0, max: defMax, dimension: 2,
    seriesIndex: [0, 2, 4, 6], inRange: {color: defColors}}],
  series: series,
  graphic: graphic
});
</script>
</body>
</html>
